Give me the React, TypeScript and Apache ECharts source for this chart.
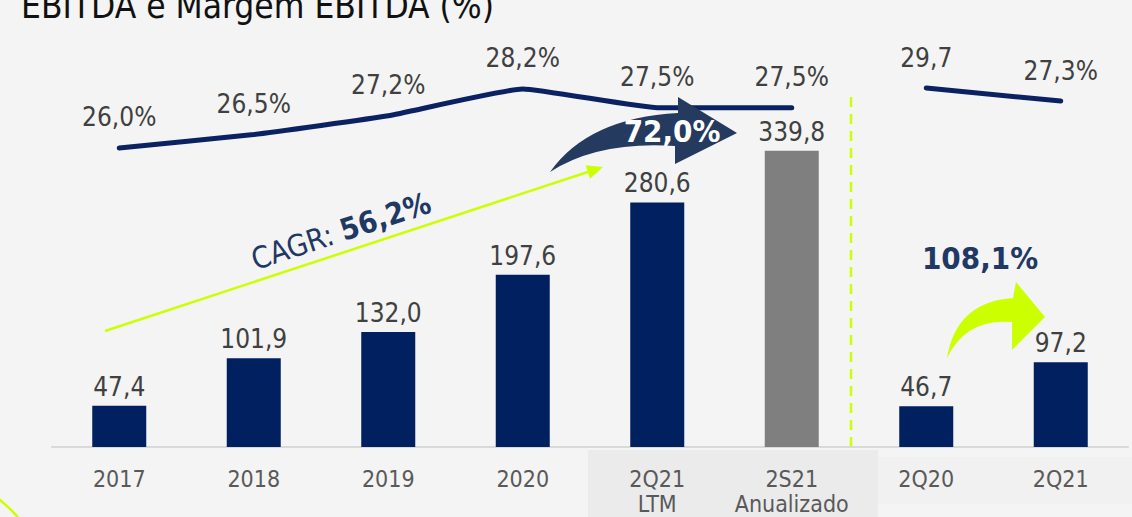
import React, { useEffect, useRef } from "react";
import * as echarts from "echarts";

const categories = ["2017", "2018", "2019", "2020", "2Q21\nLTM", "2S21\nAnualizado", "2Q20", "2Q21"];
const ebitda = [47.4, 101.9, 132.0, 197.6, 280.6, 339.8, 46.7, 97.2];
const marginAnnual: (number | null)[] = [26.0, 26.5, 27.2, 28.2, 27.5, 27.5, null, null];
const marginQuarter: (number | null)[] = [null, null, null, null, null, null, 29.7, 27.3];
const noPctIndex = 6;
const projectedIndex = 5;
const titleText = "EBITDA e Margem EBITDA (%)";
const cagrLabel = "CAGR: ";
const cagrValue = "56,2%";
const growthLtm = "72,0%";
const growthQuarter = "108,1%";

const FONT = "'DejaVu Sans Condensed', 'DejaVu Sans', sans-serif";
const NAVY = "#002060";
const LINE = "#0b2262";
const LIME = "#ccff00";
const SLATE = "#243a5e";

const fmt = (v: number) => v.toFixed(1).replace(".", ",");

echarts.graphic.registerShape(
  "darkArrow",
  echarts.graphic.extendPath(
    "M550,172 Q588,118 678,113 L678,97 L737,133 L675,164 L675,146 Q598,141 550,172 Z",
    {}
  )
);
echarts.graphic.registerShape(
  "limeArrow",
  echarts.graphic.extendPath(
    "M947,358 Q956,302 1013,298 L1016,282 L1045,317 L1012,350 L1012,322 Q966,318 947,358 Z",
    {}
  )
);

const lineLabel = (fn: (p: any) => string) => ({
  show: true,
  position: "top",
  distance: 17,
  fontSize: 26,
  color: "#404040",
  fontFamily: FONT,
  formatter: fn,
});

export default function App() {
  const ref = useRef<HTMLDivElement>(null);
  useEffect(() => {
    if (!ref.current) return;
    const chart = echarts.init(ref.current, undefined, { renderer: "svg" });
    const sx = 105, sy = 331, tx = 603, ty = 167;
    const len = Math.hypot(tx - sx, ty - sy);
    const dx = (tx - sx) / len, dy = (ty - sy) / len;
    const hl = 16, hw = 7;
    const bx = tx - hl * dx, by = ty - hl * dy;
    const option: any = {
      animation: false,
      backgroundColor: "#f4f4f4",
      textStyle: { fontFamily: FONT },
      grid: { left: 52, right: 4, top: 60, bottom: 70, containLabel: false },
      xAxis: {
        type: "category",
        data: categories,
        axisTick: { show: false },
        axisLine: { lineStyle: { color: "#d9d9d9", width: 2 } },
        axisLabel: { interval: 0, fontSize: 23, color: "#595959", margin: 19, lineHeight: 25, fontFamily: FONT },
      },
      yAxis: [
        { type: "value", min: 0, max: 444, show: false },
        { type: "value", min: 14.84, max: 29.28, show: false },
        { type: "value", min: -36.5, max: 34.87, show: false },
      ],
      series: [
        {
          type: "bar",
          barWidth: 54,
          data: ebitda.map((v, i) =>
            i === projectedIndex ? { value: v, itemStyle: { color: "#7f7f7f" } } : v
          ),
          itemStyle: { color: NAVY },
          label: {
            show: true,
            position: "top",
            distance: 6,
            fontSize: 26,
            color: "#404040",
            fontFamily: FONT,
            formatter: (p: any) => fmt(p.value),
          },
          z: 2,
        },
        {
          type: "line",
          yAxisIndex: 1,
          data: marginAnnual,
          smooth: 0.12,
          symbol: "circle",
          symbolSize: 1,
          showSymbol: true,
          itemStyle: { color: "rgba(0,0,0,0)" },
          lineStyle: { color: LINE, width: 5, cap: "round" },
          label: lineLabel((p: any) => fmt(p.value) + "%"),
          z: 3,
        },
        {
          type: "line",
          yAxisIndex: 2,
          data: marginQuarter,
          symbol: "circle",
          symbolSize: 1,
          showSymbol: true,
          itemStyle: { color: "rgba(0,0,0,0)" },
          lineStyle: { color: LINE, width: 5, cap: "round" },
          label: lineLabel((p: any) => fmt(p.value) + (p.dataIndex === noPctIndex ? "" : "%")),
          z: 3,
        },
      ],
      graphic: [
        { type: "rect", z: -1, shape: { x: 588, y: 450, width: 290, height: 67 }, style: { fill: "#ebebeb" } },
        { type: "rect", z: -1, shape: { x: 878, y: 457, width: 254, height: 47 }, style: { fill: "#f1f1f1" } },
        {
          type: "text",
          x: 21,
          y: 6,
          style: { text: titleText, fontSize: 35, fill: "#111111", fontFamily: FONT, align: "left", verticalAlign: "middle" },
        },
        {
          type: "circle",
          shape: { cx: -130, cy: 652, r: 200 },
          style: { fill: "none", stroke: LIME, lineWidth: 2.5 },
        },
        {
          type: "line",
          shape: { x1: 851, y1: 97, x2: 851, y2: 447 },
          style: { stroke: LIME, lineWidth: 2.5, lineDash: [10, 7] },
        },
        {
          type: "line",
          z: 50,
          shape: { x1: sx, y1: sy, x2: bx, y2: by },
          style: { stroke: LIME, lineWidth: 2.5 },
        },
        {
          type: "polygon",
          z: 50,
          shape: {
            points: [
              [tx, ty],
              [bx - hw * dy, by + hw * dx],
              [bx + hw * dy, by - hw * dx],
            ],
          },
          style: { fill: LIME },
        },
        {
          type: "text",
          z: 50,
          x: 341,
          y: 231,
          rotation: Math.atan2(sy - ty, tx - sx),
          style: {
            text: `{a|${cagrLabel}}{b|${cagrValue}}`,
            align: "center",
            verticalAlign: "middle",
            rich: {
              a: { fontSize: 30, fill: "#1f3864", color: "#1f3864", fontFamily: FONT },
              b: { fontSize: 30, fontWeight: "bold", fill: "#1f3864", color: "#1f3864", fontFamily: FONT },
            },
          },
        },
        { type: "darkArrow", z: 60, x: 0, y: 0, style: { fill: SLATE } },
        {
          type: "text",
          z: 61,
          x: 672,
          y: 131,
          style: { text: growthLtm, fontSize: 31, fontWeight: "bold", fill: "#ffffff", fontFamily: FONT, align: "center", verticalAlign: "middle" },
        },
        { type: "limeArrow", z: 60, x: 0, y: 0, style: { fill: LIME } },
        {
          type: "text",
          z: 61,
          x: 980,
          y: 258,
          style: { text: growthQuarter, fontSize: 31, fontWeight: "bold", fill: "#1f3864", fontFamily: FONT, align: "center", verticalAlign: "middle" },
        },
      ],
    };
    chart.setOption(option);
    return () => chart.dispose();
  }, []);
  return (
    <div
      ref={ref}
      style={{ position: "fixed", left: 0, top: 0, width: "1132px", height: "517px", background: "#f4f4f4" }}
    />
  );
}
